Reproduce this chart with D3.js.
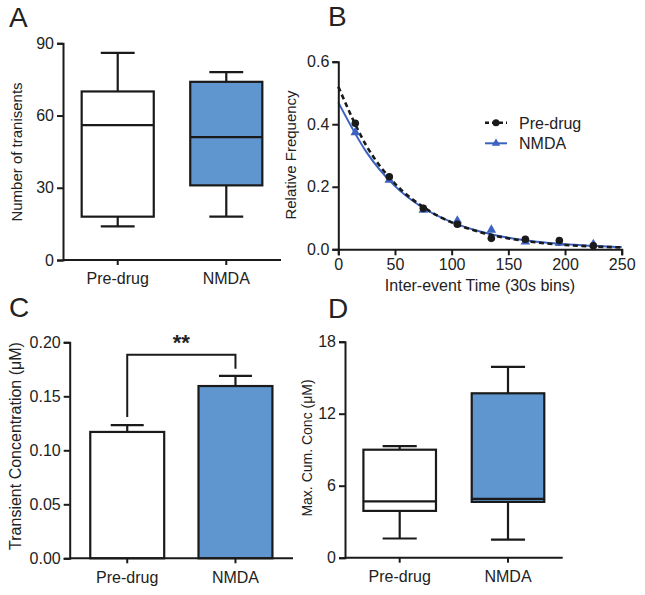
<!DOCTYPE html>
<html><head><meta charset="utf-8">
<script src="https://cdn.jsdelivr.net/npm/d3@7"></script>
<style>
body{margin:0;background:#fff;}
svg{display:block;font-family:"Liberation Sans",Arial,Helvetica,sans-serif;}
.axis path,.axis line{stroke:#1a1a1a;stroke-width:2px;}
.axis text{font-size:16px;fill:#222;font-family:"Liberation Sans",Arial,sans-serif;}
</style></head>
<body>
<script>
// ---------- data ----------
const groups = ["Pre-drug", "NMDA"];
// Panel A: Number of transients (box: min, q1, median, q3, max)
const transientsBox = [
  {min: 14, q1: 18, median: 56, q3: 70, max: 86},
  {min: 18, q1: 31, median: 51, q3: 74, max: 78}
];
const ticksA = [0, 30, 60, 90];
// Panel B: relative frequency vs inter-event time
const binCenters = [15, 45, 75, 105, 135, 165, 195, 225];
const preDrugFreq = [0.403, 0.232, 0.131, 0.080, 0.035, 0.032, 0.028, 0.011];
const nmdaFreq = [0.374, 0.222, 0.126, 0.091, 0.062, 0.024, 0.020, 0.016];
const fitX = [0, 25, 50, 75, 100, 125, 150, 175, 200, 225, 250];
const preDrugFit = [0.52, 0.33, 0.21, 0.135, 0.086, 0.055, 0.035, 0.022, 0.014, 0.009, 0.006];
const nmdaFit = [0.47, 0.31, 0.202, 0.132, 0.087, 0.057, 0.037, 0.024, 0.016, 0.011, 0.007];
const ticksBx = [0, 50, 100, 150, 200, 250];
const ticksBy = [0, 0.2, 0.4, 0.6];
// Panel C: transient concentration (mean, SEM upper)
const concMean = [0.117, 0.1595];
const concErrTop = [0.1234, 0.169];
const ticksC = [0, 0.05, 0.10, 0.15, 0.20];
const sigLabel = "**";
// Panel D: max cumulative concentration
const maxCumBox = [
  {min: 1.6, q1: 3.9, median: 4.7, q3: 9.0, max: 9.3},
  {min: 1.5, q1: 4.65, median: 4.9, q3: 13.7, max: 15.9}
];
const ticksD = [0, 6, 12, 18];

const fills = ["#ffffff", "#6096d0"];
const blue = "#3b62c0";
const ink = "#1a1a1a";

const svg = d3.select("body").append("svg").attr("width", 645).attr("height", 595);

function letter(t, x, y) {
  svg.append("text").attr("x", x).attr("y", y).attr("font-size", 28).attr("fill", "#222").text(t);
}
function yTitle(t, x, y, size) {
  svg.append("text").attr("transform", `translate(${x},${y}) rotate(-90)`)
    .attr("text-anchor", "middle").attr("font-size", size).attr("fill", "#222").text(t);
}
function catAxes(x, y, ticks, fmt, x0, x1) {
  svg.append("g").attr("class", "axis").attr("transform", `translate(${x0},0)`)
    .call(d3.axisLeft(y).tickValues(ticks).tickFormat(fmt).tickSizeOuter(0).tickSize(6).tickPadding(3));
  const y0 = y.range()[0];
  const gx = svg.append("g").attr("class", "axis").attr("transform", `translate(0,${y0})`)
    .call(d3.axisBottom(x).tickSizeOuter(0).tickSize(5).tickPadding(8));
  gx.select(".domain").attr("d", `M${x0},0H${x1}`);
}
function boxes(x, y, data) {
  const g = svg.append("g");
  data.forEach((d, i) => {
    const cx = x(groups[i]) + x.bandwidth() / 2, bw = x.bandwidth(), cap = bw * 0.47;
    const line = (x1, y1, x2, y2) => g.append("line").attr("x1", x1).attr("y1", y1).attr("x2", x2).attr("y2", y2).attr("stroke", ink).attr("stroke-width", 2.2);
    line(cx, y(d.q3), cx, y(d.max));
    line(cx - cap / 2, y(d.max), cx + cap / 2, y(d.max));
    line(cx, y(d.q1), cx, y(d.min));
    line(cx - cap / 2, y(d.min), cx + cap / 2, y(d.min));
    g.append("rect").attr("x", x(groups[i])).attr("y", y(d.q3)).attr("width", bw)
      .attr("height", y(d.q1) - y(d.q3)).attr("fill", fills[i]).attr("stroke", ink).attr("stroke-width", 2.2);
    line(x(groups[i]), y(d.median), x(groups[i]) + bw, y(d.median));
  });
}

// ---------- Panel A ----------
{
  const x = d3.scaleBand().domain(groups).range([63, 281]).paddingInner(0.336).paddingOuter(0.172);
  const y = d3.scaleLinear().domain([0, 90]).range([260, 43.3]);
  boxes(x, y, transientsBox);
  catAxes(x, y, ticksA, d3.format("d"), 63, 281);
  yTitle("Number of tranisents", 22, 152, 15);
  letter("A", 9, 27);
}

// ---------- Panel B ----------
{
  const x = d3.scaleLinear().domain([0, 250]).range([338.3, 621.7]);
  const y = d3.scaleLinear().domain([0, 0.6]).range([249.3, 61.7]);
  const ln = d3.line().x((d, i) => x(fitX[i])).y(d => y(d)).curve(d3.curveMonotoneX);
  svg.append("path").attr("d", ln(nmdaFit)).attr("fill", "none").attr("stroke", blue).attr("stroke-width", 2);
  svg.append("path").attr("d", ln(preDrugFit)).attr("fill", "none").attr("stroke", ink).attr("stroke-width", 2.6).attr("stroke-dasharray", "5,3.5");
  const tri = d3.symbol().type(d3.symbolTriangle).size(40);
  svg.append("g").selectAll("path").data(nmdaFreq).join("path")
    .attr("transform", (d, i) => `translate(${x(binCenters[i])},${y(d)})`).attr("d", tri).attr("fill", blue);
  svg.append("g").selectAll("circle").data(preDrugFreq).join("circle")
    .attr("cx", (d, i) => x(binCenters[i])).attr("cy", d => y(d)).attr("r", 3.8).attr("fill", ink);
  svg.append("g").attr("class", "axis").attr("transform", "translate(338.3,0)")
    .call(d3.axisLeft(y).tickValues(ticksBy).tickFormat(d3.format(".1f")).tickSizeOuter(0).tickSize(6).tickPadding(3));
  svg.append("g").attr("class", "axis").attr("transform", "translate(0,249.3)")
    .call(d3.axisBottom(x).tickValues(ticksBx).tickFormat(d3.format("d")).tickSizeOuter(0).tickSize(6).tickPadding(3));
  svg.append("text").attr("x", 480).attr("y", 291).attr("text-anchor", "middle").attr("font-size", 16).attr("fill", "#222").text("Inter-event Time (30s bins)");
  yTitle("Relative Frequency", 296, 155, 15);
  letter("B", 328, 26);
  // legend
  const lg = svg.append("g");
  lg.append("line").attr("x1", 485).attr("x2", 507).attr("y1", 122.7).attr("y2", 122.7).attr("stroke", ink).attr("stroke-width", 2.6).attr("stroke-dasharray", "4,3");
  lg.append("circle").attr("cx", 496).attr("cy", 122.7).attr("r", 3.5).attr("fill", ink);
  lg.append("line").attr("x1", 485).attr("x2", 507).attr("y1", 143.3).attr("y2", 143.3).attr("stroke", blue).attr("stroke-width", 2);
  lg.append("path").attr("transform", "translate(496,143.3)").attr("d", d3.symbol().type(d3.symbolTriangle).size(30)).attr("fill", blue);
  lg.append("text").attr("x", 519).attr("y", 128.5).attr("font-size", 16).attr("fill", "#222").text(groups[0]);
  lg.append("text").attr("x", 519).attr("y", 149).attr("font-size", 16).attr("fill", "#222").text(groups[1]);
}

// ---------- Panel C ----------
{
  const x = d3.scaleBand().domain(groups).range([69.7, 293]).paddingInner(0.317).paddingOuter(0.19);
  const y = d3.scaleLinear().domain([0, 0.2]).range([558.3, 342.3]);
  const g = svg.append("g");
  groups.forEach((gname, i) => {
    const cx = x(gname) + x.bandwidth() / 2;
    g.append("line").attr("x1", cx).attr("x2", cx).attr("y1", y(concMean[i])).attr("y2", y(concErrTop[i])).attr("stroke", ink).attr("stroke-width", 2.2);
    g.append("line").attr("x1", cx - 16.5).attr("x2", cx + 16.5).attr("y1", y(concErrTop[i])).attr("y2", y(concErrTop[i])).attr("stroke", ink).attr("stroke-width", 2.2);
    g.append("rect").attr("x", x(gname)).attr("y", y(concMean[i])).attr("width", x.bandwidth())
      .attr("height", y(0) - y(concMean[i])).attr("fill", fills[i]).attr("stroke", ink).attr("stroke-width", 2.2);
  });
  // significance bracket
  const c0 = x(groups[0]) + x.bandwidth() / 2, c1 = x(groups[1]) + x.bandwidth() / 2;
  const top = y(0.1885);
  g.append("path").attr("d", `M${c0},${y(concErrTop[0]) - 8}V${top}H${c1}V${y(concErrTop[1]) - 7}`)
    .attr("fill", "none").attr("stroke", ink).attr("stroke-width", 2);
  g.append("text").attr("x", (c0 + c1) / 2).attr("y", 350).attr("text-anchor", "middle").attr("font-size", 22).attr("font-weight", "bold").attr("fill", "#222").text(sigLabel);
  catAxes(x, y, ticksC, d3.format(".2f"), 69.7, 293);
  yTitle("Transient Concentration (μM)", 21, 446, 16);
  letter("C", 9, 317);
}

// ---------- Panel D ----------
{
  const x = d3.scaleBand().domain(groups).range([345, 562.7]).paddingInner(0.33).paddingOuter(0.17);
  const y = d3.scaleLinear().domain([0, 18]).range([557.7, 341.7]);
  boxes(x, y, maxCumBox);
  catAxes(x, y, ticksD, d3.format("d"), 345, 562.7);
  yTitle("Max. Cum. Conc (μM)", 312, 448, 14);
  letter("D", 328, 318);
}
</script>
</body></html>
